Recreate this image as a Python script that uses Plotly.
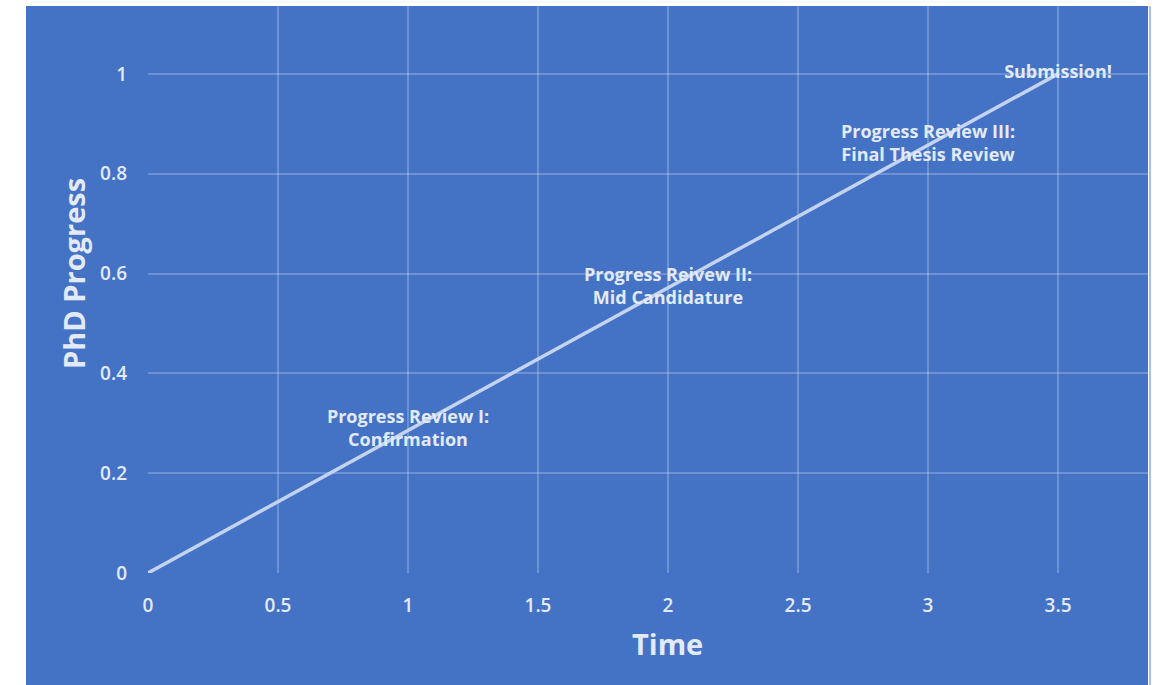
import plotly.graph_objects as go

# Milestones along the candidature
time = [0, 1, 2, 3, 3.5]
progress = [0, 0.286, 0.571, 0.857, 1.0]
labels = ["", "Progress Review I:<br>Confirmation", "Progress Reivew II:<br>Mid Candidature",
          "Progress Review III:<br>Final Thesis Review", "Submission!"]

x_ticks = [0, 0.5, 1, 1.5, 2, 2.5, 3, 3.5]
y_ticks = [0, 0.2, 0.4, 0.6, 0.8, 1]

BG = "#4472C4"
TXT = "#e2eaf8"
GRID = "rgba(255,255,255,0.22)"
FONT = "Open Sans"

fig = go.Figure()
fig.add_trace(go.Scatter(
    x=time, y=progress, mode="lines",
    line=dict(color="#c4d4f0", width=3.5),
    hoverinfo="skip", showlegend=False,
))
fig.add_trace(go.Scatter(
    x=time, y=progress, mode="text", text=labels,
    textposition="middle center",
    textfont=dict(family=FONT, size=18, color=TXT, weight="bold"),
    hoverinfo="skip", showlegend=False,
))

fig.update_layout(
    width=1161, height=685,
    margin=dict(l=148, r=13, t=6, b=112),
    paper_bgcolor="white",
    plot_bgcolor=BG,
    font=dict(family=FONT, color=TXT),
    shapes=[
        dict(type="rect", xref="paper", yref="paper",
             x0=-0.122, x1=1.0, y0=-0.2, y1=1.0,
             fillcolor=BG, line=dict(width=0), layer="below"),
        dict(type="line", xref="paper", yref="paper",
             x0=1.002, x1=1.002, y0=-0.2, y1=1.0,
             line=dict(color="#a9c2ec", width=2), layer="below"),
    ],
    annotations=[
        dict(text="<b>Time</b>", xref="paper", yref="paper",
             x=(667 - 148) / 1000, y=-(643 - 573) / 567,
             xanchor="center", yanchor="middle", showarrow=False,
             font=dict(family=FONT, size=29, color=TXT)),
        dict(text="<b>PhD Progress</b>", xref="paper", yref="paper",
             x=-(148 - 73) / 1000, y=(573 - 274) / 567, textangle=-90,
             xanchor="center", yanchor="middle", showarrow=False,
             font=dict(family=FONT, size=29, color=TXT)),
    ],
    xaxis=dict(
        range=[0, 3.846], tickvals=x_ticks, ticktext=[f"{v:g}" for v in x_ticks],
        showgrid=True, gridcolor=GRID, gridwidth=1.5, zeroline=False,
        showline=False, ticks="", ticklabelstandoff=19,
        tickfont=dict(family=FONT, size=19, color=TXT, weight=600),
    ),
    yaxis=dict(
        range=[0, 1.136], tickvals=y_ticks, ticktext=[f"{v:g}" for v in y_ticks],
        showgrid=True, gridcolor=GRID, gridwidth=1.5, zeroline=False,
        showline=False, ticks="", ticklabelstandoff=20,
        tickfont=dict(family=FONT, size=19, color=TXT, weight=600),
    ),
)

fig.write_html("out.html")
